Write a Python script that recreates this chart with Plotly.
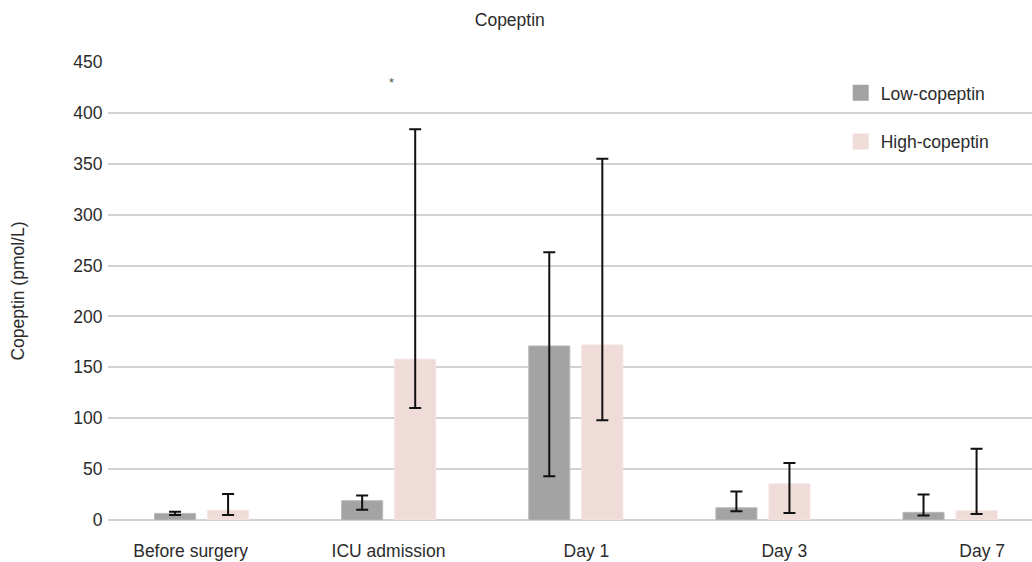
import plotly.graph_objects as go

categories = ["Before surgery", "ICU admission", "Day 1", "Day 3", "Day 7"]

low_values = [6.5, 19, 171, 12, 7.5]
low_err_low = [5, 10, 43, 8.5, 4.5]
low_err_high = [8, 24, 263, 28, 25]

high_values = [9.5, 158, 172, 35.5, 9]
high_err_low = [5, 110, 98, 7, 6]
high_err_high = [25.5, 384, 355, 56, 70]

series_names = ["Low-copeptin", "High-copeptin"]
colors = ["#a3a3a3", "#efdcd9"]
edge_colors = ["#b9b9b9", "#f3e4e1"]

FONT = "Liberation Sans, Arial, Helvetica, sans-serif"
TXT = "#2b2b2b"
FS = 17.5

fig = go.Figure()

for name, vals, lo, hi, col, ec in [
    (series_names[0], low_values, low_err_low, low_err_high, colors[0], edge_colors[0]),
    (series_names[1], high_values, high_err_low, high_err_high, colors[1], edge_colors[1]),
]:
    fig.add_trace(go.Bar(
        x=categories, y=vals, name=name, showlegend=False,
        marker=dict(color=col, line=dict(color=ec, width=1)),
        error_y=dict(type="data", symmetric=False,
                     array=[h - v for h, v in zip(hi, vals)],
                     arrayminus=[v - l for l, v in zip(lo, vals)],
                     color="#111111", thickness=2, width=6),
        hoverinfo="x+y+name",
    ))

# legend entries (square swatches)
for i, (name, col) in enumerate(zip(series_names, colors)):
    fig.add_trace(go.Scatter(
        x=[None], y=[None], mode="markers", name=name,
        legendgroup=f"g{i}",
        marker=dict(symbol="square", size=17, color=col),
        hoverinfo="skip",
    ))

# category label axis
fig.add_trace(go.Scatter(
    x=categories, y=[0] * len(categories), xaxis="x2", mode="markers",
    marker=dict(opacity=0), showlegend=False, hoverinfo="skip",
))

fig.add_annotation(x="ICU admission", y=430, text="*", showarrow=False,
                   xshift=3,
                   font=dict(size=13, color="#555555", family=FONT))

fig.update_layout(
    width=1032, height=562,
    paper_bgcolor="white", plot_bgcolor="white",
    margin=dict(l=108, r=0, t=62, b=42, autoexpand=False),
    font=dict(family=FONT, size=FS, color=TXT),
    title=dict(text="Copeptin", x=0.494, xanchor="center", y=0.975, yanchor="top",
               font=dict(size=FS, color=TXT, family=FONT)),
    barmode="group", bargap=0.433, bargroupgap=0.226,
    xaxis=dict(type="category", range=[-0.5, 4.438], showticklabels=False,
               showgrid=False, zeroline=False, showline=False, ticks="",
               automargin=False),
    xaxis2=dict(type="category", overlaying="x", side="bottom",
                range=[-0.4174, 4.2517], showgrid=False, zeroline=False,
                showline=False, ticks="outside", ticklen=15,
                tickcolor="rgba(0,0,0,0)", automargin=False,
                tickfont=dict(size=FS, color=TXT, family=FONT)),
    yaxis=dict(range=[0, 450], tickvals=list(range(0, 451, 50)),
               showgrid=True, gridcolor="#d2d2d2", gridwidth=1.5,
               zeroline=True, zerolinecolor="#d2d2d2", zerolinewidth=1.5,
               showline=False, ticks="outside", ticklen=1,
               tickcolor="rgba(0,0,0,0)",
               tickfont=dict(size=FS, color=TXT, family=FONT),
               title=dict(text="Copeptin (pmol/L)", standoff=44,
                          font=dict(size=FS, color=TXT, family=FONT)),
               automargin=False),
    legend=dict(x=0.793, y=0.972, xanchor="left", yanchor="top",
                bgcolor="rgba(0,0,0,0)", traceorder="grouped",
                tracegroupgap=23, font=dict(size=FS, color=TXT, family=FONT)),
    showlegend=True,
)

fig.write_html("out.html", config={"displayModeBar": False},
               post_script="document.body.style.margin='0';")
